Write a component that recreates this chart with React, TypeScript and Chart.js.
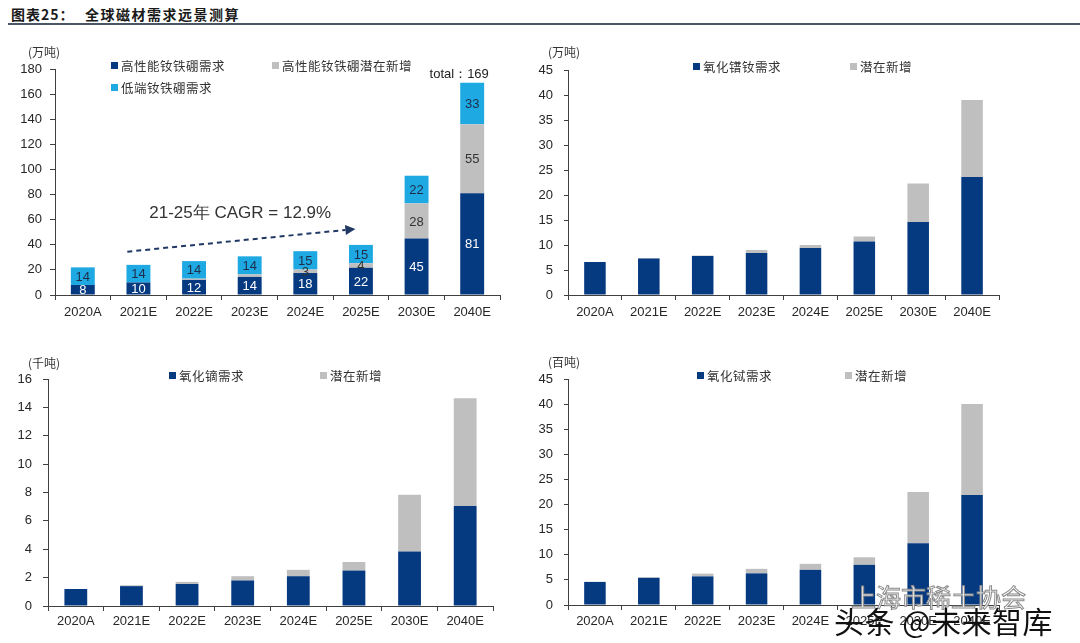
import React, { useEffect, useRef } from "react";
import { Chart, registerables } from "chart.js";
Chart.register(...registerables);
Chart.defaults.font.family = "'Liberation Sans', Arial, sans-serif";

// ---------- data ----------
const categories = ["2020A", "2021E", "2022E", "2023E", "2024E", "2025E", "2030E", "2040E"];

// 全球钕铁硼 (万吨)
const ndfebHighDemand = [8, 10, 12, 14.4, 17.5, 21.7, 45, 81];
const ndfebHighPotential = [0, 0, 1, 2, 2.8, 3.6, 28, 55];
const ndfebLowDemand = [14, 14, 14, 14.4, 14.6, 14.6, 22, 33];
const ndfebTicks = { max: 180, step: 20 };

// 氧化镨钕 (万吨)
const prndDemand = [6.6, 7.3, 7.8, 8.4, 9.4, 10.7, 14.6, 23.6];
const prndPotential = [0, 0.1, 0.1, 0.6, 0.6, 1.0, 7.7, 15.4];
const prndTicks = { max: 45, step: 5 };

// 氧化镝 (千吨)
const dyDemand = [1.2, 1.4, 1.55, 1.8, 2.1, 2.5, 3.85, 7.05];
const dyPotential = [0, 0.06, 0.15, 0.3, 0.45, 0.6, 4.0, 7.6];
const dyTicks = { max: 16, step: 2 };

// 氧化铽 (百吨)
const tbDemand = [4.6, 5.4, 5.7, 6.3, 7.0, 8.0, 12.3, 21.9];
const tbPotential = [0, 0.15, 0.55, 0.9, 1.2, 1.5, 10.2, 18.1];
const tbTicks = { max: 45, step: 5 };

// annotation (data units: category index, value)
const cagrText = "21-25年 CAGR = 12.9%";
const cagrTextAt = [2.83, 65];
const cagrArrowFrom = [0.8, 34.5];
const cagrArrowTo = [4.9, 52.6];

const NAVY = "#063A80";
const GRAY = "#BFBFBF";
const CYAN = "#1EA9E2";
const AXIS = "#404040";
const TXT = "#262626";

const topLeftLabels = {
  id: "tlLabels",
  afterDatasetsDraw(chart: any) {
    const ctx = chart.ctx;
    const xs = chart.scales.x;
    const ys = chart.scales.y;
    ctx.save();
    ctx.font = "13px 'Liberation Sans', Arial, sans-serif";
    ctx.textAlign = "center";
    ctx.textBaseline = "middle";
    const colors = ["#FFFFFF", "#333333", "#1F2D4A"];
    chart.data.datasets.forEach((ds: any, di: number) => {
      const meta = chart.getDatasetMeta(di);
      meta.data.forEach((el: any, i: number) => {
        const v = ds.data[i];
        if (di === 1 && v < 2.5) return;
        if (!v) return;
        ctx.fillStyle = colors[di];
        ctx.fillText(String(Math.round(v)), el.x, (el.y + el.base) / 2 + 1);
      });
    });
    // total label
    const last = categories.length - 1;
    const total = ndfebHighDemand[last] + ndfebHighPotential[last] + ndfebLowDemand[last];
    ctx.font = "13px 'Liberation Sans', Arial, sans-serif";
    ctx.fillStyle = "#222";
    ctx.fillText("total：" + Math.round(total), xs.getPixelForValue(last) - 13, ys.getPixelForValue(total) - 8);
    // CAGR text
    ctx.font = "17px 'Liberation Sans', Arial, sans-serif";
    ctx.fillStyle = "#333";
    ctx.fillText(cagrText, xs.getPixelForValue(cagrTextAt[0]), ys.getPixelForValue(cagrTextAt[1]));
    // dashed arrow
    const x1 = xs.getPixelForValue(cagrArrowFrom[0]);
    const y1 = ys.getPixelForValue(cagrArrowFrom[1]);
    const x2 = xs.getPixelForValue(cagrArrowTo[0]);
    const y2 = ys.getPixelForValue(cagrArrowTo[1]);
    const ang = Math.atan2(y2 - y1, x2 - x1);
    const headLen = 10;
    const bx = x2 - headLen * Math.cos(ang);
    const by = y2 - headLen * Math.sin(ang);
    ctx.strokeStyle = "#1F3864";
    ctx.lineWidth = 2;
    ctx.setLineDash([5, 4]);
    ctx.beginPath();
    ctx.moveTo(x1, y1);
    ctx.lineTo(bx, by);
    ctx.stroke();
    ctx.setLineDash([]);
    ctx.fillStyle = "#1F3864";
    ctx.beginPath();
    ctx.moveTo(x2, y2);
    ctx.lineTo(bx + 5 * Math.sin(ang), by - 5 * Math.cos(ang));
    ctx.lineTo(bx - 5 * Math.sin(ang), by + 5 * Math.cos(ang));
    ctx.closePath();
    ctx.fill();
    ctx.restore();
  },
};

type DS = { label: string; data: number[]; color: string };
type Cfg = {
  left: number; top: number; width: number; height: number;
  yWidth: number; padTop: number; padRight: number; xHeight: number;
  max: number; step: number; barPct: number; yPad: number; yTick: number; xPad: number;
  datasets: DS[]; plugins?: any[];
};

function BarPanel({ cfg }: { cfg: Cfg }) {
  const ref = useRef<HTMLCanvasElement>(null);
  useEffect(() => {
    const chart = new Chart(ref.current as HTMLCanvasElement, {
      type: "bar",
      data: {
        labels: categories,
        datasets: cfg.datasets.map((d) => ({
          label: d.label,
          data: d.data,
          backgroundColor: d.color,
          borderWidth: 0,
          barPercentage: cfg.barPct,
          categoryPercentage: 1,
        })),
      },
      options: {
        responsive: false,
        animation: false,
        devicePixelRatio: 1,
        layout: { padding: { top: cfg.padTop, right: cfg.padRight, left: 0, bottom: 0 } },
        plugins: { legend: { display: false }, tooltip: { enabled: false } },
        scales: {
          x: {
            stacked: true,
            offset: true,
            grid: { display: true, drawOnChartArea: false, drawTicks: true, tickLength: 5, color: AXIS, offset: true },
            border: { display: true, color: AXIS, width: 1 },
            ticks: { color: TXT, font: { size: 13 }, padding: cfg.xPad, maxRotation: 0, autoSkip: false },
            afterFit: (s: any) => { s.height = cfg.xHeight; },
          },
          y: {
            stacked: true,
            min: 0,
            max: cfg.max,
            grid: { display: true, drawOnChartArea: false, drawTicks: true, tickLength: cfg.yTick, color: AXIS },
            border: { display: true, color: AXIS, width: 1 },
            ticks: { stepSize: cfg.step, color: TXT, font: { size: 13 }, padding: cfg.yPad },
            afterFit: (s: any) => { s.width = cfg.yWidth; },
          },
        },
      } as any,
      plugins: cfg.plugins || [],
    });
    return () => chart.destroy();
  }, []);
  return (
    <canvas
      ref={ref}
      width={cfg.width}
      height={cfg.height}
      style={{ position: "absolute", left: cfg.left, top: cfg.top, width: cfg.width, height: cfg.height }}
    />
  );
}

const cjk = "'Noto Sans CJK SC', 'Noto Sans', sans-serif";

function Legend({ x, y, color, text }: { x: number; y: number; color: string; text: string }) {
  return (
    <div style={{ position: "absolute", left: x, top: y - 9, height: 18, display: "flex", alignItems: "center", whiteSpace: "nowrap" }}>
      <span style={{ display: "inline-block", width: 7, height: 7, background: color, marginRight: 3 }} />
      <span style={{ fontFamily: cjk, fontSize: 12.5, color: "#333", letterSpacing: 0.5 }}>{text}</span>
    </div>
  );
}

function Unit({ x, y, text }: { x: number; y: number; text: string }) {
  return (
    <div style={{ position: "absolute", left: x, top: y - 9, fontFamily: cjk, fontSize: 12, color: "#333", whiteSpace: "nowrap" }}>
      {text}
    </div>
  );
}

export default function App() {
  const tl: Cfg = {
    left: 0, top: 50, width: 512, height: 275, yWidth: 55, padTop: 19, padRight: 12, xHeight: 30,
    max: ndfebTicks.max, step: ndfebTicks.step, barPct: 0.43, yPad: 8, yTick: 5, xPad: 5,
    datasets: [
      { label: "高性能钕铁硼需求", data: ndfebHighDemand, color: NAVY },
      { label: "高性能钕铁硼潜在新增", data: ndfebHighPotential, color: GRAY },
      { label: "低端钕铁硼需求", data: ndfebLowDemand, color: CYAN },
    ],
    plugins: [topLeftLabels],
  };
  const tr: Cfg = {
    left: 530, top: 50, width: 479, height: 275, yWidth: 38, padTop: 20, padRight: 10, xHeight: 30,
    max: prndTicks.max, step: prndTicks.step, barPct: 0.4, yPad: 11, yTick: 4, xPad: 5,
    datasets: [
      { label: "氧化镨钕需求", data: prndDemand, color: NAVY },
      { label: "潜在新增", data: prndPotential, color: GRAY },
    ],
  };
  const bl: Cfg = {
    left: 0, top: 360, width: 503, height: 276, yWidth: 48, padTop: 19, padRight: 10, xHeight: 30,
    max: dyTicks.max, step: dyTicks.step, barPct: 0.41, yPad: 11, yTick: 5, xPad: 3,
    datasets: [
      { label: "氧化镝需求", data: dyDemand, color: NAVY },
      { label: "潜在新增", data: dyPotential, color: GRAY },
    ],
  };
  const br: Cfg = {
    left: 530, top: 360, width: 479, height: 275, yWidth: 38, padTop: 19, padRight: 10, xHeight: 30,
    max: tbTicks.max, step: tbTicks.step, barPct: 0.4, yPad: 11, yTick: 4, xPad: 4,
    datasets: [
      { label: "氧化铽需求", data: tbDemand, color: NAVY },
      { label: "潜在新增", data: tbPotential, color: GRAY },
    ],
  };
  return (
    <div style={{ position: "absolute", left: 0, top: 0, width: 1080, height: 643, background: "#fff", overflow: "hidden" }}>
      <div style={{ position: "absolute", left: 11, top: 4, fontFamily: cjk, fontWeight: 700, fontSize: 14, color: "#1a1a1a", whiteSpace: "nowrap", letterSpacing: 1 }}>
        图表25：
      </div>
      <div style={{ position: "absolute", left: 85, top: 4, fontFamily: cjk, fontWeight: 700, fontSize: 14, color: "#1a1a1a", whiteSpace: "nowrap", letterSpacing: 1.5 }}>
        全球磁材需求远景测算
      </div>
      <div style={{ position: "absolute", left: 8, top: 23, width: 1072, height: 2, background: "#4A5566" }} />

      <BarPanel cfg={tl} />
      <BarPanel cfg={tr} />
      <BarPanel cfg={bl} />
      <BarPanel cfg={br} />

      <Unit x={28} y={52} text="(万吨)" />
      <Unit x={548} y={52} text="(万吨)" />
      <Unit x={28} y={363} text="(千吨)" />
      <Unit x={548} y={362} text="(百吨)" />

      <Legend x={111} y={65} color={NAVY} text="高性能钕铁硼需求" />
      <Legend x={272} y={65} color={GRAY} text="高性能钕铁硼潜在新增" />
      <Legend x={111} y={87} color={CYAN} text="低端钕铁硼需求" />

      <Legend x={693} y={66} color={NAVY} text="氧化镨钕需求" />
      <Legend x={850} y={66} color={GRAY} text="潜在新增" />

      <Legend x={169} y={375} color={NAVY} text="氧化镝需求" />
      <Legend x={320} y={375} color={GRAY} text="潜在新增" />

      <Legend x={697} y={375} color={NAVY} text="氧化铽需求" />
      <Legend x={845} y={375} color={GRAY} text="潜在新增" />

      <div style={{ position: "absolute", left: 851, top: 578, fontFamily: cjk, fontSize: 25, color: "rgba(255,255,255,0.92)", WebkitTextStroke: "1px #8a8a8a", whiteSpace: "nowrap" }}>
        上海市稀土协会
      </div>
      <div style={{ position: "absolute", left: 834, top: 598, fontFamily: cjk, fontSize: 30, color: "#111", whiteSpace: "nowrap", letterSpacing: 0.5 }}>
        头条 @未来智库
      </div>
    </div>
  );
}
